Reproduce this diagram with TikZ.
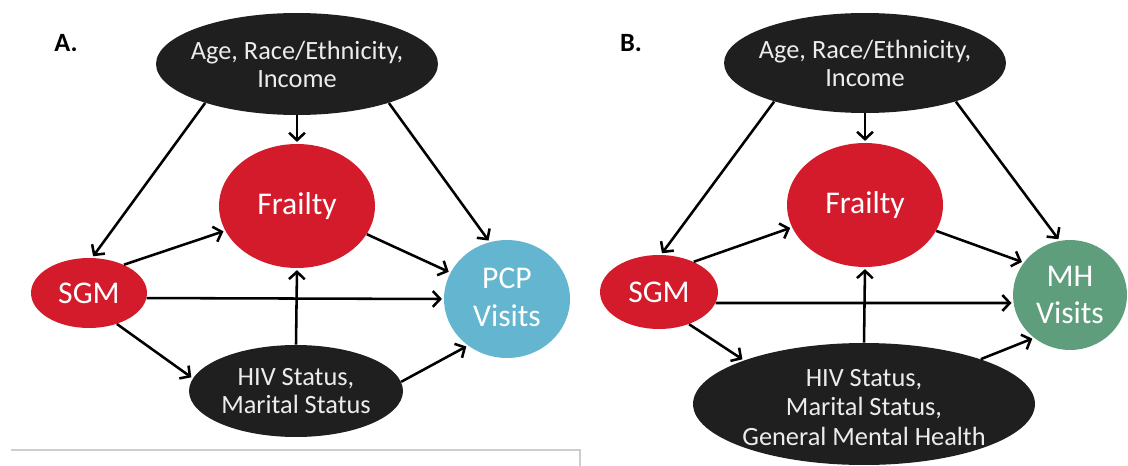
\documentclass[tikz,border=0pt]{standalone}
\usepackage{fontspec}
\setmainfont{Carlito}
\usetikzlibrary{shapes.geometric,arrows.meta}
\definecolor{sgmred}{RGB}{211,27,44}
\definecolor{darkfill}{RGB}{31,31,31}
\definecolor{pcpblue}{RGB}{99,181,208}
\definecolor{mhgreen}{RGB}{94,158,124}
\definecolor{paletext}{RGB}{236,236,236}
\definecolor{framegray}{RGB}{205,205,205}
\tikzstyle{dark} = [shape=ellipse, fill=darkfill, inner sep=0pt]
\tikzstyle{redell} = [shape=ellipse, fill=sgmred, inner sep=0pt]
\tikzstyle{small} = [font=\fontsize{15}{16}\selectfont, text=paletext, align=center]
\tikzstyle{smalltall} = [font=\fontsize{15}{17}\selectfont, text=paletext, align=center]
\tikzstyle{big} = [font=\fontsize{18}{21.5}\selectfont, text=white, align=center]
\tikzstyle{panel} = [font=\bfseries\fontsize{15}{18}\selectfont]
\tikzstyle{arr} = [line width=1.45pt, -{Straight Barb[length=4.2pt,width=9pt]}, shorten >=1pt]

\begin{document}
\begin{tikzpicture}[x=0.02cm, y=-0.02cm]
	\useasboundingbox (0,0) rectangle (1128,466);
	\draw[framegray, line width=0.6pt] (11,450) -- (580,450) -- (580,466);

	% panel A
	\node[panel] (labA) at (66,43) {A.};
	\node[dark, minimum width=5.64cm, minimum height=2.04cm,
		label={[small]center:{Age, Race/Ethnicity,\\Income}}] (topA) at (297,64) {};
	\node[redell, minimum width=3.12cm, minimum height=2.48cm,
		label={[big]center:Frailty}] (frA) at (297,206) {};
	\node[redell, minimum width=2.32cm, minimum height=1.40cm,
		label={[big]center:SGM}] (sgmA) at (89,293) {};
	\node[shape=ellipse, fill=pcpblue, inner sep=0pt, minimum width=2.52cm, minimum height=2.36cm,
		label={[big, yshift=1pt]center:{PCP\\Visits}}] (pcpA) at (507,299) {};
	\node[dark, minimum width=4.28cm, minimum height=1.84cm,
		label={[small]center:{HIV Status,\\Marital Status}}] (hivA) at (296,391) {};

	\path [arr] (topA.south) edge (frA.north);
	\path [arr] (topA.-157) edge (sgmA.85);
	\path [arr] (topA.-23) edge (pcpA.107);
	\path [arr] (sgmA.39) edge (frA.-161);
	\path [arr] (frA.-22) edge (pcpA.155);
	\path [arr] (sgmA.-5) edge (pcpA.180);
	\path [arr] (hivA.north) edge (frA.south);
	\path [arr] (sgmA.-48) edge (hivA.173);
	\path [arr] (hivA.5) edge (pcpA.-130);

	% panel B
	\node[panel] (labB) at (631,43) {B.};
	\node[dark, minimum width=5.64cm, minimum height=2.00cm,
		label={[small]center:{Age, Race/Ethnicity,\\Income}}] (topB) at (865,63) {};
	\node[redell, minimum width=3.12cm, minimum height=2.48cm,
		label={[big]center:Frailty}] (frB) at (865,205) {};
	\node[redell, minimum width=2.36cm, minimum height=1.48cm,
		label={[big]center:SGM}] (sgmB) at (659,292) {};
	\node[shape=ellipse, fill=mhgreen, inner sep=0pt, minimum width=2.28cm, minimum height=2.20cm,
		label={[big]center:{MH\\Visits}}] (mhB) at (1070,295) {};
	\node[dark, minimum width=6.84cm, minimum height=2.44cm,
		label={[smalltall, yshift=-2pt]center:{HIV Status,\\Marital Status,\\General Mental Health}}] (hivB) at (864,404) {};

	\path [arr] (topB.south) edge (frB.north);
	\path [arr] (topB.-157) edge (sgmB.87);
	\path [arr] (topB.-23) edge (mhB.101);
	\path [arr] (sgmB.41) edge (frB.-163);
	\path [arr] (frB.-20) edge (mhB.145);
	\path [arr] (sgmB.-11) edge (mhB.-172);
	\path [arr] (hivB.north) edge (frB.south);
	\path [arr] (sgmB.-47) edge (hivB.160);
	\path [arr] (hivB.21) edge (mhB.-130);
\end{tikzpicture}
\end{document}
